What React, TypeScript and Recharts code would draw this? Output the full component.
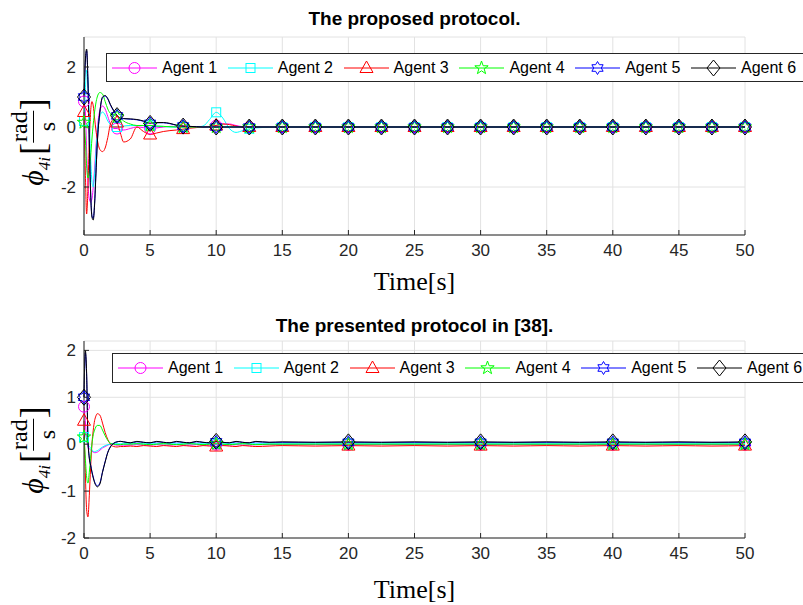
import { CartesianGrid, Line, LineChart, XAxis, YAxis } from 'recharts'

// sample times (s), shared by both panels
const timeGrid = [
  0, 0.1, 0.2, 0.3, 0.4, 0.5, 0.6, 0.7, 0.8, 0.9, 1.0,
  1.2, 1.4, 1.6, 1.8, 2.0, 2.25, 2.5, 2.75, 3.0,
  3.5, 4.0, 4.5, 5.0, 5.5, 6.0, 6.5, 7.0, 7.5, 8.0, 8.5, 9.0, 9.5, 10.0, 10.5, 11.0, 11.5, 12.0, 12.5, 13.0,
  14, 15, 17.5, 20, 22.5, 25, 27.5, 30, 32.5, 35, 37.5, 40, 42.5, 45, 47.5, 50,
]

// top panel: the proposed protocol
const topAgent1 = [
  0.85, 0.5, -0.8, -1.9, -2.4, -2.5, -2.4, -2.0, -1.4, -0.7, -0.1,
  0.55, 0.7, 0.6, 0.35, 0.1, -0.05, -0.05, -0.1, -0.1,
  -0.05, 0.0, -0.02, -0.05, -0.03, 0.0, 0.02, 0.02, 0.0, 0.0, 0.0, 0.0, 0.02, 0.05, 0.1, 0.1, 0.05, 0.01, 0.0, 0.0,
  0, 0, 0, 0, 0, 0, 0, 0, 0, 0, 0, 0, 0, 0, 0, 0,
]
const topAgent2 = [
  0.2, 1.2, 1.9, 1.5, 0.3, -1.0, -1.8, -2.0, -1.6, -0.9, -0.2,
  0.35, 0.5, 0.4, 0.2, 0.08, 0.0, 0.0, 0.0, 0.03,
  0.05, 0.05, 0.05, 0.05, 0.03, 0.02, 0.0, 0.0, 0.0, 0.0, 0.0, 0.03, 0.25, 0.49, 0.3, -0.05, -0.18, -0.12, -0.06, -0.03,
  -0.01, 0, 0, 0, 0, 0, 0, 0, 0, 0, 0, 0, 0, 0, 0, 0,
]
const topAgent3 = [
  0.5, -1.5, -2.9, -2.0, -0.5, 0.5, 0.85, 0.7, 0.3, -0.1, -0.4,
  -0.75, -0.82, -0.7, -0.35, 0.1, 0.25, 0.15, -0.2, -0.5,
  -0.4, 0.0, -0.15, -0.25, -0.2, -0.15, -0.12, -0.1, -0.07, -0.04, -0.02, 0.0, 0.02, 0.05, 0.1, 0.08, 0.03, 0.0, 0.0, 0.0,
  0, 0, 0, 0, 0, 0, 0, 0, 0, 0, 0, 0, 0, 0, 0, 0,
]
const topAgent4 = [
  0.15, -0.4, -1.3, -1.7, -1.5, -1.0, -0.4, 0.1, 0.5, 0.8, 1.0,
  1.15, 1.1, 0.85, 0.6, 0.45, 0.4, 0.35, 0.3, 0.2,
  0.1, 0.05, 0.05, 0.05, 0.03, 0.02, 0.01, 0.0, 0.0, 0.0, 0.0, 0.0, 0.0, 0.0, 0.0, 0.0, 0.0, 0.0, 0.0, 0.0,
  0, 0, 0, 0, 0, 0, 0, 0, 0, 0, 0, 0, 0, 0, 0, 0,
]
const topAgent5 = [
  1.0, 2.15, 2.55, 1.5, -0.45, -2.15, -2.95, -3.05, -2.55, -1.55, -0.55,
  0.5, 0.98, 1.03, 0.93, 0.73, 0.53, 0.37, 0.3, 0.28,
  0.26, 0.24, 0.19, 0.12, 0.14, 0.14, 0.11, 0.06, 0.03, 0.02, 0.01, 0.0, 0.0, 0.0, 0.0, 0.0, 0.0, 0.0, 0.0, 0.0,
  0, 0, 0, 0, 0, 0, 0, 0, 0, 0, 0, 0, 0, 0, 0, 0,
]
const topAgent6 = [
  1.0, 2.2, 2.6, 1.5, -0.5, -2.2, -3.0, -3.1, -2.6, -1.6, -0.6,
  0.5, 1.0, 1.05, 0.95, 0.75, 0.55, 0.38, 0.3, 0.28,
  0.27, 0.25, 0.2, 0.12, 0.15, 0.15, 0.12, 0.06, 0.03, 0.02, 0.01, 0, 0, 0, 0, 0, 0, 0, 0, 0,
  0, 0, 0, 0, 0, 0, 0, 0, 0, 0, 0, 0, 0, 0, 0, 0,
]

// bottom panel: the protocol in [38]
const botAgent1 = [
  0.8, 0.5, 0.1, -0.05, -0.1, -0.12, -0.15, -0.17, -0.18, -0.18, -0.17,
  -0.13, -0.08, -0.05, -0.02, 0.0, -0.01, -0.02, -0.02, -0.02,
  -0.02, -0.01, -0.02, -0.02, -0.01, -0.02, -0.02, -0.01, -0.02, -0.02, -0.01, -0.02, -0.02, -0.01, -0.02, -0.02, -0.01, -0.02, -0.02, -0.01,
  -0.01, -0.01, -0.01, -0.01, -0.01, -0.01, -0.01, -0.01, -0.01, -0.01, -0.01, -0.01, -0.01, -0.01, -0.01, -0.01,
]
const botAgent2 = [
  0.15, 0.2, 0.1, 0.0, -0.05, -0.08, -0.12, -0.15, -0.16, -0.15, -0.14,
  -0.1, -0.06, -0.03, -0.01, 0.0, 0.01, 0.01, 0.01, 0.01,
  0.01, 0.01, 0.01, 0.01, 0.01, 0.01, 0.01, 0.01, 0.01, 0.01, 0.01, 0.01, 0.01, 0.01, 0.01, 0.01, 0.01, 0.01, 0.01, 0.01,
  0.01, 0.01, 0.01, 0.01, 0.01, 0.01, 0.01, 0.01, 0.01, 0.01, 0.01, 0.01, 0.01, 0.01, 0.01, 0.01,
]
const botAgent3 = [
  0.5, -0.6, -1.4, -1.55, -1.1, -0.5, 0.0, 0.3, 0.5, 0.6, 0.65,
  0.62, 0.45, 0.25, 0.1, 0.0, -0.05, -0.06, -0.05, -0.05,
  -0.04, -0.05, -0.03, -0.04, -0.05, -0.03, -0.04, -0.05, -0.03, -0.04, -0.05, -0.03, -0.04, -0.05, -0.03, -0.04, -0.05, -0.03, -0.04, -0.05,
  -0.04, -0.03, -0.04, -0.03, -0.04, -0.03, -0.04, -0.03, -0.04, -0.03, -0.04, -0.03, -0.04, -0.03, -0.04, -0.03,
]
const botAgent4 = [
  0.15, -0.3, -0.7, -0.83, -0.6, -0.3, 0.0, 0.2, 0.3, 0.37, 0.4,
  0.4, 0.3, 0.18, 0.08, 0.02, 0.0, -0.01, -0.01, 0.0,
  0.0, 0.01, 0.0, -0.01, 0.0, 0.01, 0.0, -0.01, 0.0, 0.01, 0.0, -0.01, 0.0, 0.01, 0.0, -0.01, 0.0, 0.01, 0.0, -0.01,
  0, 0, 0, 0, 0, 0, 0, 0, 0, 0, 0, 0, 0, 0, 0, 0,
]
const botAgent5 = [
  1.0, 1.95, 1.45, 0.12, -0.28, -0.44, -0.58, -0.7, -0.8, -0.86, -0.89,
  -0.83, -0.59, -0.37, -0.17, -0.05, 0.02, 0.05, 0.06, 0.05,
  0.03, 0.05, 0.04, 0.03, 0.05, 0.04, 0.03, 0.05, 0.04, 0.03, 0.05, 0.04, 0.03, 0.05, 0.04, 0.03, 0.05, 0.04, 0.03, 0.05,
  0.04, 0.04, 0.04, 0.04, 0.04, 0.04, 0.04, 0.04, 0.04, 0.04, 0.04, 0.04, 0.04, 0.04, 0.04, 0.04,
]
const botAgent6 = [
  1.0, 2.0, 1.5, 0.1, -0.3, -0.45, -0.6, -0.72, -0.82, -0.88, -0.91,
  -0.85, -0.6, -0.38, -0.18, -0.06, 0.02, 0.05, 0.06, 0.05,
  0.03, 0.06, 0.04, 0.03, 0.06, 0.04, 0.03, 0.06, 0.04, 0.03, 0.06, 0.04, 0.03, 0.06, 0.04, 0.03, 0.06, 0.04, 0.03, 0.06,
  0.04, 0.05, 0.04, 0.05, 0.04, 0.05, 0.04, 0.05, 0.04, 0.05, 0.04, 0.05, 0.04, 0.05, 0.04, 0.05,
]

const agentNames = ['Agent 1', 'Agent 2', 'Agent 3', 'Agent 4', 'Agent 5', 'Agent 6']
const agentColors = ['#ff00ff', '#00ffff', '#ff0000', '#00ff00', '#0000ff', '#000000']
const agentShapes = ['circle', 'square', 'triangle', 'pentagram', 'hexagram', 'diamond']
const agentKeys = ['a1', 'a2', 'a3', 'a4', 'a5', 'a6']

const xTicks = [0, 5, 10, 15, 20, 25, 30, 35, 40, 45, 50]
const topYTicks = [-2, 0, 2]
const bottomYTicks = [-2, -1, 0, 1, 2]
const topMarkTimes = [0, 2.5, 5, 7.5, 10, 12.5, 15, 17.5, 20, 22.5, 25, 27.5, 30, 32.5, 35, 37.5, 40, 42.5, 45, 47.5, 50]
const bottomMarkTimes = [0, 10, 20, 30, 40, 50]

const buildRows = (series: number[][]) =>
  timeGrid.map((t, i) => {
    const row: Record<string, number> = { t }
    agentKeys.forEach((k, j) => {
      row[k] = series[j][i]
    })
    return row
  })

const topRows = buildRows([topAgent1, topAgent2, topAgent3, topAgent4, topAgent5, topAgent6])
const bottomRows = buildRows([botAgent1, botAgent2, botAgent3, botAgent4, botAgent5, botAgent6])

const AXIS = '#262626'
const SANS = '"Liberation Sans", Arial, Helvetica, sans-serif'
const SERIF = '"Liberation Serif", "DejaVu Serif", serif'
const tickStyle = { fontFamily: SANS, fontSize: 17, fill: '#262626' }

function starPoints(cx: number, cy: number, n: number, outer: number, inner: number) {
  const pts: string[] = []
  for (let k = 0; k < n * 2; k++) {
    const r = k % 2 === 0 ? outer : inner
    const a = -Math.PI / 2 + (k * Math.PI) / n
    pts.push(`${cx + r * Math.cos(a)},${cy + r * Math.sin(a)}`)
  }
  return pts.join(' ')
}

function Marker({ shape, cx, cy, color }: { shape: string; cx: number; cy: number; color: string }) {
  const common = { fill: 'none', stroke: color, strokeWidth: 1 }
  switch (shape) {
    case 'circle':
      return <circle cx={cx} cy={cy} r={5.5} {...common} />
    case 'square':
      return <rect x={cx - 4.5} y={cy - 4.5} width={9} height={9} {...common} />
    case 'triangle':
      return <polygon points={`${cx},${cy - 7} ${cx + 6.5},${cy + 4.5} ${cx - 6.5},${cy + 4.5}`} {...common} />
    case 'pentagram':
      return <polygon points={starPoints(cx, cy, 5, 7, 2.8)} {...common} />
    case 'hexagram':
      return <polygon points={starPoints(cx, cy, 6, 6.5, 3.8)} {...common} />
    default:
      return <polygon points={`${cx},${cy - 8} ${cx + 6.5},${cy} ${cx},${cy + 8} ${cx - 6.5},${cy}`} {...common} />
  }
}

const EmptyTick = () => <g />

interface PanelProps {
  rows: Record<string, number>[]
  yDomain: [number, number]
  yTicks: number[]
  markTimes: number[]
  height: number
  plotTop: number
  plotBottom: number
}

function Panel({ rows, yDomain, yTicks, markTimes, height, plotTop, plotBottom }: PanelProps) {
  return (
    <LineChart
      width={803}
      height={height}
      data={rows}
      margin={{ top: plotTop, right: 58, left: 44, bottom: height - plotBottom - 30 }}
    >
      <CartesianGrid stroke="#e2e2e2" strokeWidth={1} />
      <XAxis
        dataKey="t"
        type="number"
        domain={[0, 50]}
        ticks={xTicks}
        interval={0}
        height={30}
        stroke={AXIS}
        tickSize={-5}
        tickMargin={14}
        tick={tickStyle}
      />
      <XAxis
        xAxisId="top"
        orientation="top"
        type="number"
        domain={[0, 50]}
        ticks={xTicks}
        interval={0}
        height={0}
        stroke={AXIS}
        tickSize={-5}
        tick={EmptyTick}
        allowDataOverflow
      />
      <YAxis
        type="number"
        domain={yDomain}
        ticks={yTicks}
        interval={0}
        width={40}
        stroke={AXIS}
        tickSize={-5}
        tickMargin={13}
        tick={tickStyle}
      />
      <YAxis
        yAxisId="right"
        orientation="right"
        type="number"
        domain={yDomain}
        ticks={yTicks}
        interval={0}
        width={0}
        stroke={AXIS}
        tickSize={-5}
        tick={EmptyTick}
        allowDataOverflow
      />
      {agentKeys.map((k, i) => (
        <Line
          key={k}
          dataKey={k}
          type="monotone"
          stroke={agentColors[i]}
          strokeWidth={1}
          activeDot={false}
          isAnimationActive={false}
          dot={(p: any) => {
            const key = `${k}-${p.index}`
            if (!markTimes.includes(p.payload.t)) return <g key={key} />
            return <Marker key={key} shape={agentShapes[i]} cx={p.cx} cy={p.cy} color={agentColors[i]} />
          }}
        />
      ))}
    </LineChart>
  )
}

function LegendBox({ left, top, height }: { left: number; top: number; height: number }) {
  return (
    <div
      style={{
        position: 'absolute',
        left,
        top,
        width: 740,
        height,
        border: `1px solid ${AXIS}`,
        background: '#fff',
        boxSizing: 'border-box',
      }}
    >
      {agentNames.map((name, i) => (
        <div
          key={name}
          style={{
            position: 'absolute',
            left: 5 + i * 115.8,
            top: 0,
            height: '100%',
            display: 'flex',
            alignItems: 'center',
          }}
        >
          <svg width={45} height={20} style={{ display: 'block' }}>
            <line x1={0} y1={10} x2={45} y2={10} stroke={agentColors[i]} strokeWidth={1} />
            <Marker shape={agentShapes[i]} cx={22.5} cy={10} color={agentColors[i]} />
          </svg>
          <span style={{ marginLeft: 5, fontFamily: SANS, fontSize: 16, color: '#000', whiteSpace: 'nowrap' }}>
            {name}
          </span>
        </div>
      ))}
    </div>
  )
}

function YLabel({ cx, cy }: { cx: number; cy: number }) {
  return (
    <div
      style={{
        position: 'absolute',
        left: cx,
        top: cy,
        transform: 'translate(-50%, -50%) rotate(-90deg)',
        whiteSpace: 'nowrap',
        fontFamily: SERIF,
        fontSize: 30,
        color: '#000',
        display: 'flex',
        alignItems: 'center',
        lineHeight: 1,
      }}
    >
      <span style={{ fontStyle: 'italic' }}>ϕ</span>
      <span style={{ fontSize: 17, fontStyle: 'italic', alignSelf: 'flex-end', marginBottom: 6 }}>4i</span>
      <span style={{ fontSize: 36, marginLeft: 2 }}>[</span>
      <span style={{ display: 'inline-flex', flexDirection: 'column', alignItems: 'center', fontSize: 24 }}>
        <span style={{ padding: '0 1px 2px' }}>rad</span>
        <span style={{ borderTop: '1px solid #000', width: '100%', textAlign: 'center', paddingTop: 1 }}>s</span>
      </span>
      <span style={{ fontSize: 36 }}>]</span>
    </div>
  )
}

function CenterText({ y, children, style }: { y: number; children: string; style: any }) {
  return (
    <div
      style={{
        position: 'absolute',
        left: 414.5,
        top: y,
        transform: 'translate(-50%, -50%)',
        whiteSpace: 'nowrap',
        lineHeight: 1,
        color: '#000',
        ...style,
      }}
    >
      {children}
    </div>
  )
}

const titleStyle = { fontFamily: SANS, fontWeight: 700, fontSize: 19 }
const timeStyle = { fontFamily: SERIF, fontSize: 26 }

export default function App() {
  return (
    <div
      style={{
        position: 'absolute',
        left: 0,
        top: 0,
        width: 803,
        height: 605,
        overflow: 'hidden',
        background: '#fff',
      }}
    >
      <div style={{ position: 'absolute', left: 0, top: 0 }}>
        <Panel rows={topRows} yDomain={[-3.6, 3]} yTicks={topYTicks} markTimes={topMarkTimes} height={300} plotTop={37} plotBottom={235} />
      </div>
      <div style={{ position: 'absolute', left: 0, top: 300 }}>
        <Panel rows={bottomRows} yDomain={[-2, 2.2]} yTicks={bottomYTicks} markTimes={bottomMarkTimes} height={305} plotTop={41} plotBottom={238} />
      </div>
      <CenterText y={18} style={titleStyle}>The proposed protocol.</CenterText>
      <CenterText y={325} style={titleStyle}>The presented protocol in [38].</CenterText>
      <CenterText y={282} style={timeStyle}>Time[s]</CenterText>
      <CenterText y={590} style={timeStyle}>Time[s]</CenterText>
      <YLabel cx={33} cy={142} />
      <YLabel cx={33} cy={450} />
      <LegendBox left={106} top={53} height={29} />
      <LegendBox left={112} top={353} height={30} />
    </div>
  )
}
